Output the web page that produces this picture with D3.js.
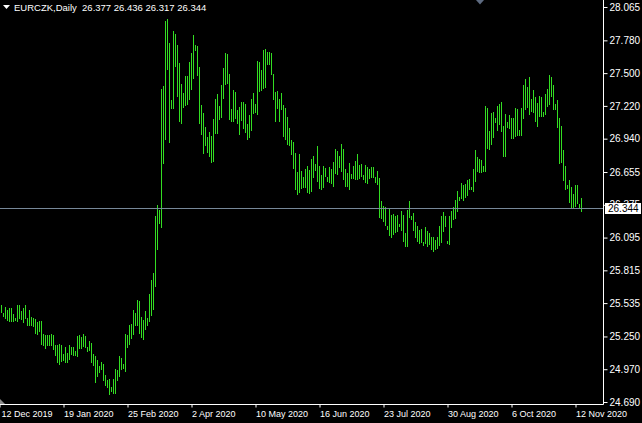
<!DOCTYPE html>
<html>
<head>
<meta charset="utf-8">
<script src="https://cdn.jsdelivr.net/npm/d3@7"></script>
<style>
  body { margin: 0; background: #000; }
  svg { display: block; }
  text { font-family: Tahoma, "Liberation Sans", Arial, sans-serif; font-size: 10px; }
</style>
</head>
<body>
<script>
// symbol + OHLC of the last bar shown in the header
var symbol = "EURCZK,Daily";
var lastOHLC = [26.377, 26.436, 26.317, 26.344];

// daily highs and lows, one per bar (oldest first)
var highs = [
  25.519, 25.451, 25.502, 25.476, 25.493, 25.493, 25.442, 25.408, 25.519, 25.519,
  25.468, 25.493, 25.519, 25.408, 25.476, 25.416, 25.408, 25.399, 25.374, 25.382,
  25.382, 25.271, 25.263, 25.263, 25.263, 25.271, 25.263, 25.177, 25.177, 25.186,
  25.177, 25.100, 25.160, 25.109, 25.177, 25.160, 25.160, 25.126, 25.254, 25.263,
  25.246, 25.271, 25.254, 25.160, 25.211, 25.194, 25.100, 25.083, 25.049, 24.998,
  25.032, 25.015, 24.921, 24.878, 24.887, 24.819, 24.887, 24.972, 24.964, 25.083,
  25.066, 25.015, 25.271, 25.263, 25.348, 25.357, 25.476, 25.451, 25.562, 25.553,
  25.416, 25.391, 25.468, 25.408, 25.613, 25.733, 25.792, 26.280, 26.373, 26.331,
  27.365, 27.390, 27.946, 27.963, 27.758, 27.271, 27.860, 27.835, 27.741, 27.587,
  27.407, 27.330, 27.476, 27.476, 27.595, 27.672, 27.826, 27.741, 27.732, 27.553,
  27.228, 27.160, 27.040, 26.955, 26.997, 26.963, 27.108, 27.279, 27.322, 27.219,
  27.399, 27.544, 27.672, 27.664, 27.493, 27.194, 27.356, 27.339, 27.185, 27.211,
  27.254, 27.254, 27.236, 27.066, 27.142, 27.279, 27.330, 27.236, 27.604, 27.595,
  27.527, 27.698, 27.706, 27.681, 27.681, 27.672, 27.493, 27.339, 27.348, 27.279,
  27.330, 27.228, 27.202, 27.125, 27.031, 26.929, 26.912, 26.818, 26.655, 26.809,
  26.664, 26.613, 26.681, 26.707, 26.673, 26.766, 26.792, 26.724, 26.878, 26.707,
  26.630, 26.707, 26.690, 26.613, 26.698, 26.681, 26.741, 26.852, 26.835, 26.792,
  26.895, 26.852, 26.681, 26.647, 26.732, 26.638, 26.707, 26.749, 26.809, 26.715,
  26.724, 26.630, 26.715, 26.698, 26.681, 26.698, 26.698, 26.613, 26.664, 26.604,
  26.408, 26.365, 26.356, 26.194, 26.339, 26.288, 26.297, 26.280, 26.288, 26.211,
  26.322, 26.288, 26.134, 26.331, 26.408, 26.280, 26.305, 26.228, 26.194, 26.160,
  26.168, 26.057, 26.185, 26.151, 26.134, 26.100, 26.100, 26.074, 26.100, 26.194,
  26.280, 26.314, 26.280, 26.066, 26.280, 26.322, 26.356, 26.416, 26.493, 26.442,
  26.561, 26.544, 26.553, 26.587, 26.596, 26.527, 26.681, 26.843, 26.784, 26.766,
  26.758, 26.707, 27.219, 27.202, 27.006, 27.160, 27.168, 27.117, 27.219, 27.236,
  27.254, 27.048, 27.151, 27.083, 27.142, 27.117, 27.117, 27.202, 27.194, 27.014,
  27.202, 27.399, 27.450, 27.382, 27.467, 27.279, 27.356, 27.296, 27.245, 27.305,
  27.296, 27.168, 27.322, 27.365, 27.484, 27.467, 27.399, 27.236, 27.271, 27.117,
  27.048, 26.843, 26.707, 26.544, 26.587, 26.527, 26.467, 26.544, 26.544, 26.382,
  26.436
];
var lows = [
  25.451, 25.416, 25.399, 25.382, 25.374, 25.374, 25.374, 25.382, 25.374, 25.399,
  25.391, 25.365, 25.399, 25.340, 25.340, 25.340, 25.331, 25.271, 25.263, 25.288,
  25.177, 25.169, 25.143, 25.169, 25.169, 25.169, 25.135, 25.083, 25.023, 25.006,
  25.032, 25.041, 25.023, 25.023, 25.049, 25.092, 25.083, 25.083, 25.075, 25.143,
  25.143, 25.160, 25.152, 25.118, 25.126, 25.023, 24.998, 24.853, 24.904, 24.938,
  24.964, 24.870, 24.827, 24.810, 24.750, 24.776, 24.759, 24.759, 24.870, 24.904,
  24.964, 24.972, 24.947, 25.152, 25.177, 25.229, 25.263, 25.340, 25.340, 25.271,
  25.237, 25.220, 25.306, 25.340, 25.374, 25.425, 25.476, 25.673, 25.989, 26.211,
  26.177, 26.724, 26.929, 27.527, 26.903, 27.194, 27.194, 27.553, 27.296, 27.083,
  27.066, 27.202, 27.219, 27.228, 27.271, 27.356, 27.450, 27.689, 27.476, 27.066,
  26.972, 26.809, 26.878, 26.818, 26.784, 26.732, 26.741, 26.980, 26.980, 27.100,
  27.117, 27.279, 27.399, 27.407, 27.100, 27.083, 27.083, 27.108, 27.066, 26.972,
  27.091, 27.023, 26.989, 26.929, 26.946, 27.006, 27.151, 27.160, 27.142, 27.339,
  27.348, 27.365, 27.373, 27.570, 27.570, 27.484, 27.271, 27.083, 27.194, 27.083,
  27.185, 26.955, 26.929, 26.886, 26.878, 26.801, 26.681, 26.502, 26.459, 26.476,
  26.510, 26.519, 26.519, 26.476, 26.467, 26.485, 26.604, 26.664, 26.570, 26.510,
  26.502, 26.519, 26.613, 26.570, 26.561, 26.553, 26.527, 26.638, 26.630, 26.690,
  26.655, 26.587, 26.527, 26.527, 26.502, 26.596, 26.596, 26.587, 26.587, 26.596,
  26.613, 26.587, 26.561, 26.553, 26.596, 26.604, 26.604, 26.561, 26.544, 26.262,
  26.254, 26.228, 26.194, 26.160, 26.109, 26.092, 26.117, 26.134, 26.143, 26.185,
  26.151, 26.057, 26.015, 26.015, 26.262, 26.245, 26.151, 26.092, 26.057, 26.040,
  26.049, 26.023, 26.040, 26.015, 26.032, 25.989, 25.972, 25.989, 25.998, 26.023,
  26.049, 26.143, 26.185, 26.040, 26.032, 26.177, 26.245, 26.254, 26.314, 26.408,
  26.425, 26.408, 26.433, 26.450, 26.502, 26.502, 26.485, 26.570, 26.655, 26.647,
  26.647, 26.655, 26.655, 26.852, 26.843, 26.886, 26.946, 27.074, 27.006, 27.057,
  26.997, 26.784, 26.784, 27.031, 27.023, 26.937, 26.937, 26.955, 26.963, 26.963,
  26.963, 27.108, 27.185, 27.202, 27.142, 27.168, 27.160, 27.083, 27.040, 27.125,
  27.125, 27.125, 27.142, 27.211, 27.228, 27.296, 27.185, 27.185, 27.031, 26.724,
  26.732, 26.578, 26.502, 26.510, 26.390, 26.348, 26.348, 26.356, 26.382, 26.348,
  26.317
];

// time axis labels and the bar index each one sits on
var dateLabels = ["12 Dec 2019", "19 Jan 2020", "25 Feb 2020", "2 Apr 2020", "10 May 2020",
                  "16 Jun 2020", "23 Jul 2020", "30 Aug 2020", "6 Oct 2020", "12 Nov 2020"];
var dateIndex = [-1, 31, 63, 95, 127, 159, 191, 223, 255, 287];

// price scale labels
var priceTicks = [28.065, 27.780, 27.500, 27.220, 26.940, 26.655, 26.375,
                  26.095, 25.815, 25.535, 25.250, 24.970, 24.690];

var width = 642, height = 423;
var plotRight = 603.5, plotBottom = 404.5;

var svg = d3.select("body").append("svg")
    .attr("width", width)
    .attr("height", height)
    .style("background", "#000");

// one bar every 2px
var x = d3.scaleLinear()
    .domain([0, highs.length - 1])
    .range([1.5, 1.5 + 2 * (highs.length - 1)]);
var y = d3.scaleLinear()
    .domain([24.690, 28.065])
    .range([402, 7]);

var data = highs.map(function(h, i) { return {i: i, high: h, low: lows[i]}; });

// the bars (at this zoom MT4 only draws the high-low line)
svg.append("g").selectAll("line")
    .data(data)
  .enter().append("line")
    .attr("x1", function(d) { return x(d.i); })
    .attr("x2", function(d) { return x(d.i); })
    .attr("y1", function(d) { return y(d.high); })
    .attr("y2", function(d) { return Math.max(y(d.low), y(d.high) + 1); })
    .attr("stroke", "#33dd22")
    .attr("stroke-width", 1)
    .attr("shape-rendering", "crispEdges");

// bid line at the last close
var close = lastOHLC[3];
svg.append("line")
    .attr("x1", 0).attr("x2", plotRight)
    .attr("y1", Math.round(y(close)) + 0.5).attr("y2", Math.round(y(close)) + 0.5)
    .attr("stroke", "#778899");

// right price axis
var yAxis = svg.append("g")
    .attr("transform", "translate(" + plotRight + ",0)")
    .attr("color", "#fff")
    .call(d3.axisRight(y)
        .tickValues(priceTicks)
        .tickSize(4)
        .tickPadding(2)
        .tickFormat(d3.format(".3f")));
yAxis.select(".domain").remove();
yAxis.selectAll("text").attr("fill", "#fff").style("font-size", "10px");

// bottom time axis
var xAxis = svg.append("g")
    .attr("transform", "translate(0," + plotBottom + ")")
    .attr("color", "#fff")
    .call(d3.axisBottom(x)
        .tickValues(dateIndex)
        .tickSize(3)
        .tickPadding(3)
        .tickFormat(function(d, i) { return dateLabels[i]; }));
xAxis.select(".domain").remove();
xAxis.selectAll("text")
    .attr("text-anchor", "start")
    .attr("x", 0)
    .attr("fill", "#fff")
    .style("font-size", "9px");
xAxis.selectAll(".tick").filter(function(d) { return d < 0; })
    .select("text").attr("x", 1.5);

// frame of the chart window
svg.append("line")
    .attr("x1", plotRight).attr("x2", plotRight)
    .attr("y1", 0).attr("y2", plotBottom)
    .attr("stroke", "#fff");
svg.append("line")
    .attr("x1", 0).attr("x2", plotRight)
    .attr("y1", plotBottom).attr("y2", plotBottom)
    .attr("stroke", "#fff");

// current price box on the scale (covers most of the 26.375 label, as in MT4)
var cy = y(close);
svg.append("rect")
    .attr("x", 605).attr("y", Math.round(cy) - 5)
    .attr("width", 36).attr("height", 11)
    .attr("fill", "#fff");
svg.append("text")
    .attr("x", 608).attr("y", cy)
    .attr("dy", "0.35em")
    .attr("fill", "#000")
    .text(d3.format(".3f")(close));

// header
svg.append("path")
    .attr("d", "M3,5 L10,5 L6.5,9 Z")
    .attr("fill", "#fff");
svg.append("text")
    .attr("x", 14).attr("y", 11)
    .attr("fill", "#fff")
    .attr("xml:space", "preserve")
    .style("font-size", "9.5px")
    .text(symbol + "  " + lastOHLC.map(d3.format(".3f")).join(" "));

// chart shift marker at top and the small one at bottom left
svg.append("path")
    .attr("d", "M476,0 L484,0 L480,4.5 Z")
    .attr("fill", "#5d6a80");
svg.append("path")
    .attr("d", "M0,399 L5,404 L0,404 Z")
    .attr("fill", "#8c8c8c");
</script>
</body>
</html>
